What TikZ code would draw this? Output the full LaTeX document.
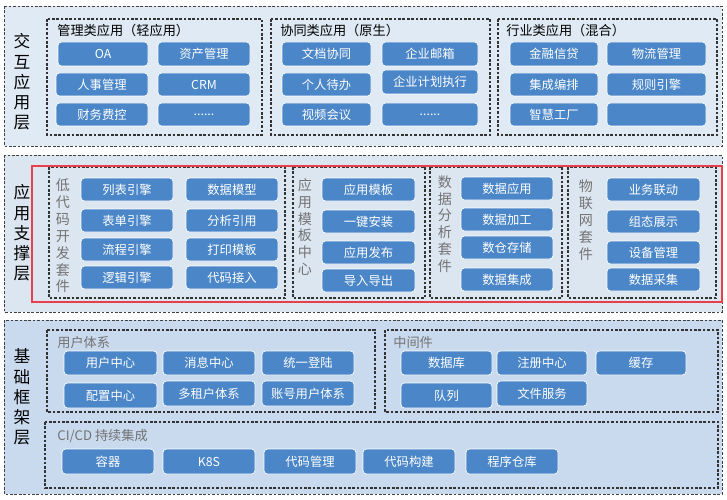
\documentclass[tikz,border=0pt]{standalone}
\usepackage{fontspec}
\setmainfont{Noto Sans CJK SC}
\begin{document}
\begin{tikzpicture}[x=0.02cm,y=-0.02cm,
 btn/.style={fill=btnc,draw=white,line width=0.4pt,rounded corners=2pt,text=white,font=\fontsize{7}{8}\selectfont,inner sep=0pt},
 layer/.style={draw=black!75,dashed,line width=0.5pt,dash pattern=on 1.5pt off 1pt},
 sub/.style={draw=black!80,line width=0.6pt,dash pattern=on 1.5pt off 1pt},
 ltxt/.style={font=\fontsize{9.5}{11.5}\selectfont,align=center,text=black},
 gtxt/.style={font=\fontsize{8}{9.6}\selectfont,align=center,text=black!55},
 ttl/.style={font=\fontsize{7.5}{9}\selectfont,anchor=west,inner sep=0pt}]
\definecolor{btnc}{HTML}{4A86C8}
\definecolor{l1}{HTML}{DFEAF4}
\definecolor{l2}{HTML}{DCE6F1}
\definecolor{l3}{HTML}{C9DAEE}
\definecolor{redc}{HTML}{E8404A}
\newcommand\bt[6]{\node[btn,minimum width={(#4-#2)*0.02cm},minimum height={(#5-#3)*0.02cm}] (#1) at ({(#2+#4)/2},{(#3+#5)/2}) {#6};}
\useasboundingbox (0,0) rectangle (727,500);
\fill[white] (0,0) rectangle (727,500);
% layer 1
\fill[l1] (4,6) rectangle (722,146);
\draw[layer] (4,6) rectangle (722,146);
\node[ltxt] (L1) at (22,82) {交\\互\\应\\用\\层};
\draw[sub] (47,19) rectangle (262,135);
\draw[sub] (271,19) rectangle (490,135);
\draw[sub] (498,19) rectangle (717,135);
\node[ttl] (t1) at (57,30) {管理类应用（轻应用）};
\node[ttl] (t2) at (280,30) {协同类应用（原生）};
\node[ttl] (t3) at (506,30) {行业类应用（混合）};
\bt{a1}{58}{42}{148}{66}{OA}
\bt{a2}{158}{42}{250}{66}{资产管理}
\bt{a3}{56}{73}{148}{96}{人事管理}
\bt{a4}{158}{73}{250}{96}{CRM}
\bt{a5}{56}{103}{148}{126}{财务费控}
\bt{a6}{158}{103}{250}{126}{......}
\bt{b1}{282}{42}{371}{66}{文档协同}
\bt{b2}{382}{42}{478}{66}{企业邮箱}
\bt{b3}{282}{73}{371}{96}{个人待办}
\bt{b4}{382}{70}{478}{94}{企业计划执行}
\bt{b5}{282}{103}{371}{126}{视频会议}
\bt{b6}{382}{103}{478}{126}{......}
\bt{c1}{510}{42}{598}{66}{金融信贷}
\bt{c2}{607}{42}{706}{66}{物流管理}
\bt{c3}{510}{73}{598}{96}{集成编排}
\bt{c4}{607}{73}{706}{96}{规则引擎}
\bt{c5}{510}{103}{598}{126}{智慧工厂}
\bt{c6}{607}{103}{706}{126}{}
% layer 2
\fill[l2] (4,155) rectangle (722,312);
\draw[layer] (4,155) rectangle (722,312);
\node[ltxt] (L2) at (22,233) {应\\用\\支\\撑\\层};
\draw[sub] (49,167) rectangle (285,298);
\draw[sub] (293,167) rectangle (425,298);
\draw[sub] (430,167) rectangle (562,298);
\draw[sub] (568,167) rectangle (716,298);
\draw[redc,line width=1.6pt] (32,166) rectangle (722,302);
\node[gtxt] (g1) at (63,236) {低\\代\\码\\开\\发\\套\\件};
\node[gtxt] (g2) at (305,227) {应\\用\\模\\板\\中\\心};
\node[gtxt] (g3) at (445,224) {数\\据\\分\\析\\套\\件};
\node[gtxt] (g4) at (586,220) {物\\联\\网\\套\\件};
\bt{d1}{81}{178}{173}{201}{列表引擎}
\bt{d2}{186}{178}{278}{201}{数据模型}
\bt{d3}{81}{209}{173}{232}{表单引擎}
\bt{d4}{186}{209}{278}{232}{分析引用}
\bt{d5}{81}{238}{173}{261}{流程引擎}
\bt{d6}{186}{238}{278}{261}{打印模板}
\bt{d7}{81}{266}{173}{289}{逻辑引擎}
\bt{d8}{186}{266}{278}{289}{代码接入}
\bt{e1}{322}{178}{415}{201}{应用模板}
\bt{e2}{322}{210}{415}{233}{一键安装}
\bt{e3}{322}{241}{415}{264}{应用发布}
\bt{e4}{322}{269}{415}{292}{导入导出}
\bt{f1}{461}{177}{553}{200}{数据应用}
\bt{f2}{461}{208}{553}{231}{数据加工}
\bt{f3}{461}{236}{553}{259}{数仓存储}
\bt{f4}{461}{268}{553}{291}{数据集成}
\bt{h1}{607}{178}{700}{201}{业务联动}
\bt{h2}{607}{210}{700}{233}{组态展示}
\bt{h3}{607}{241}{700}{264}{设备管理}
\bt{h4}{607}{268}{700}{291}{数据采集}
% layer 3
\fill[l3] (4,320) rectangle (722,494);
\draw[layer] (4,320) rectangle (722,494);
\node[ltxt] (L3) at (22,397) {基\\础\\框\\架\\层};
\draw[sub] (47,330) rectangle (375,412);
\draw[sub] (385,330) rectangle (718,412);
\draw[sub] (45,422) rectangle (718,488);
\node[ttl,text=black!55] (t4) at (57,342) {用户体系};
\node[ttl,text=black!55] (t5) at (393,342) {中间件};
\node[ttl,text=black!55] (t6) at (57,436) {CI/CD 持续集成};
\bt{u1}{64}{351}{157}{375}{用户中心}
\bt{u2}{163}{351}{255}{375}{消息中心}
\bt{u3}{262}{351}{354}{375}{统一登陆}
\bt{u4}{64}{383}{157}{408}{配置中心}
\bt{u5}{163}{381}{255}{406}{多租户体系}
\bt{u6}{262}{381}{354}{406}{账号用户体系}
\bt{m1}{401}{351}{492}{375}{数据库}
\bt{m2}{497}{351}{587}{375}{注册中心}
\bt{m3}{596}{351}{686}{375}{缓存}
\bt{m4}{401}{383}{492}{408}{队列}
\bt{m5}{497}{381}{587}{406}{文件服务}
\bt{k1}{62}{449}{154}{474}{容器}
\bt{k2}{163}{449}{255}{474}{K8S}
\bt{k3}{264}{449}{356}{474}{代码管理}
\bt{k4}{363}{449}{455}{474}{代码构建}
\bt{k5}{466}{449}{558}{474}{程序仓库}
\end{tikzpicture}
\end{document}
